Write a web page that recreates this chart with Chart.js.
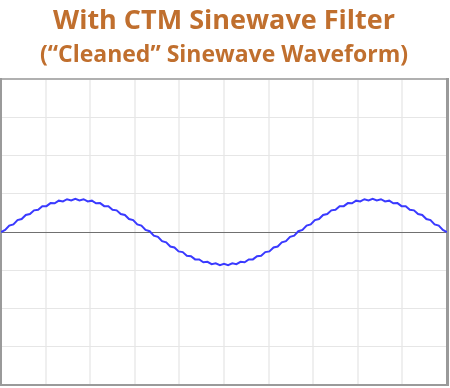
<!DOCTYPE html>
<html>
<head>
<meta charset="utf-8">
<script src="https://cdn.jsdelivr.net/npm/chart.js@4"></script>
<style>
  html, body { margin: 0; padding: 0; background: #fff; }
  #wrap { width: 450px; height: 388px; }
</style>
</head>
<body>
<div id="wrap"><canvas id="myChart"></canvas></div>
<script>
// phase angle (degrees) along the trace
const angles = [0, 5, 10, 15, 20, 25, 30, 35, 40, 45, 50, 55, 60, 65, 70, 75, 80, 85, 90,
  95, 100, 105, 110, 115, 120, 125, 130, 135, 140, 145, 150, 155, 160, 165, 170, 175, 180,
  185, 190, 195, 200, 205, 210, 215, 220, 225, 230, 235, 240, 245, 250, 255, 260, 265, 270,
  275, 280, 285, 290, 295, 300, 305, 310, 315, 320, 325, 330, 335, 340, 345, 350, 355, 360,
  365, 370, 375, 380, 385, 390, 395, 400, 405, 410, 415, 420, 425, 430, 435, 440, 445, 450,
  455, 460, 465, 470, 475, 480, 485, 490, 495, 500, 505, 510, 515, 520, 525, 530, 535, 540];

// filtered output voltage (small residual ripple)
const voltage = [0, 0.054, 0.168, 0.200, 0.311, 0.339, 0.445, 0.468, 0.566, 0.581, 0.671, 0.676, 0.756, 0.750, 0.819, 0.801, 0.857, 0.827, 0.870,
  0.827, 0.857, 0.801, 0.819, 0.750, 0.756, 0.676, 0.671, 0.581, 0.566, 0.468, 0.445, 0.339, 0.311, 0.200, 0.168, 0.054, 0.020,
  -0.094, -0.128, -0.240, -0.271, -0.379, -0.405, -0.508, -0.526, -0.621, -0.631, -0.716, -0.716, -0.790, -0.779, -0.841, -0.817, -0.867, -0.830,
  -0.867, -0.817, -0.841, -0.779, -0.790, -0.716, -0.716, -0.631, -0.621, -0.526, -0.508, -0.405, -0.379, -0.271, -0.240, -0.128, -0.094, 0.020,
  0.054, 0.168, 0.200, 0.311, 0.339, 0.445, 0.468, 0.566, 0.581, 0.671, 0.676, 0.756, 0.750, 0.819, 0.801, 0.857, 0.827, 0.870,
  0.827, 0.857, 0.801, 0.819, 0.750, 0.756, 0.676, 0.671, 0.581, 0.566, 0.468, 0.445, 0.339, 0.311, 0.200, 0.168, 0.054, 0];

const titleLines = ['With CTM Sinewave Filter', '(\u201cCleaned\u201d Sinewave Waveform)'];

const xMin = 0, xMax = 540, xStep = 54;
const yMin = -4, yMax = 4, yStep = 1;

const orange = '#C06F2E';
const frame = '#9a9a9a';

const ctx = document.getElementById('myChart');

new Chart(ctx, {
  type: 'line',
  data: {
    datasets: [{
      label: 'Output',
      data: angles.map((a, i) => ({ x: a, y: voltage[i] })),
      borderColor: '#3a3aff',
      borderWidth: 2,
      pointRadius: 0,
      tension: 0
    }]
  },
  options: {
    responsive: true,
    maintainAspectRatio: false,
    animation: false,
    layout: { padding: { left: 1, right: 3, bottom: 3, top: 5 } },
    plugins: {
      legend: { display: false },
      tooltip: { enabled: false },
      title: {
        display: true,
        text: titleLines[0],
        color: orange,
        font: { family: 'Open Sans', size: 27, weight: 'bold' },
        padding: { top: 0, bottom: 4 }
      },
      subtitle: {
        display: true,
        text: titleLines[1],
        color: orange,
        font: { family: 'Open Sans', size: 23, weight: 'bold' },
        padding: { top: 0, bottom: 10 }
      }
    },
    scales: {
      x: {
        type: 'linear',
        min: xMin, max: xMax,
        ticks: { display: false, stepSize: xStep },
        grid: { color: '#efefef', lineWidth: 2, drawTicks: false },
        border: { color: frame, width: 2 }
      },
      x2: {
        type: 'linear', position: 'top',
        min: xMin, max: xMax,
        ticks: { display: false },
        grid: { display: false, drawTicks: false },
        border: { color: '#b0b0b0', width: 2 }
      },
      y: {
        min: yMin, max: yMax,
        ticks: { display: false, stepSize: yStep },
        grid: {
          drawTicks: false,
          lineWidth: 1,
          color: (c) => c.tick && c.tick.value === 0 ? '#707070' : '#e6e6e6'
        },
        border: { color: frame, width: 2 }
      },
      y2: {
        position: 'right',
        min: yMin, max: yMax,
        ticks: { display: false },
        grid: { display: false, drawTicks: false },
        border: { color: frame, width: 3 }
      }
    }
  }
});
</script>
</body>
</html>
